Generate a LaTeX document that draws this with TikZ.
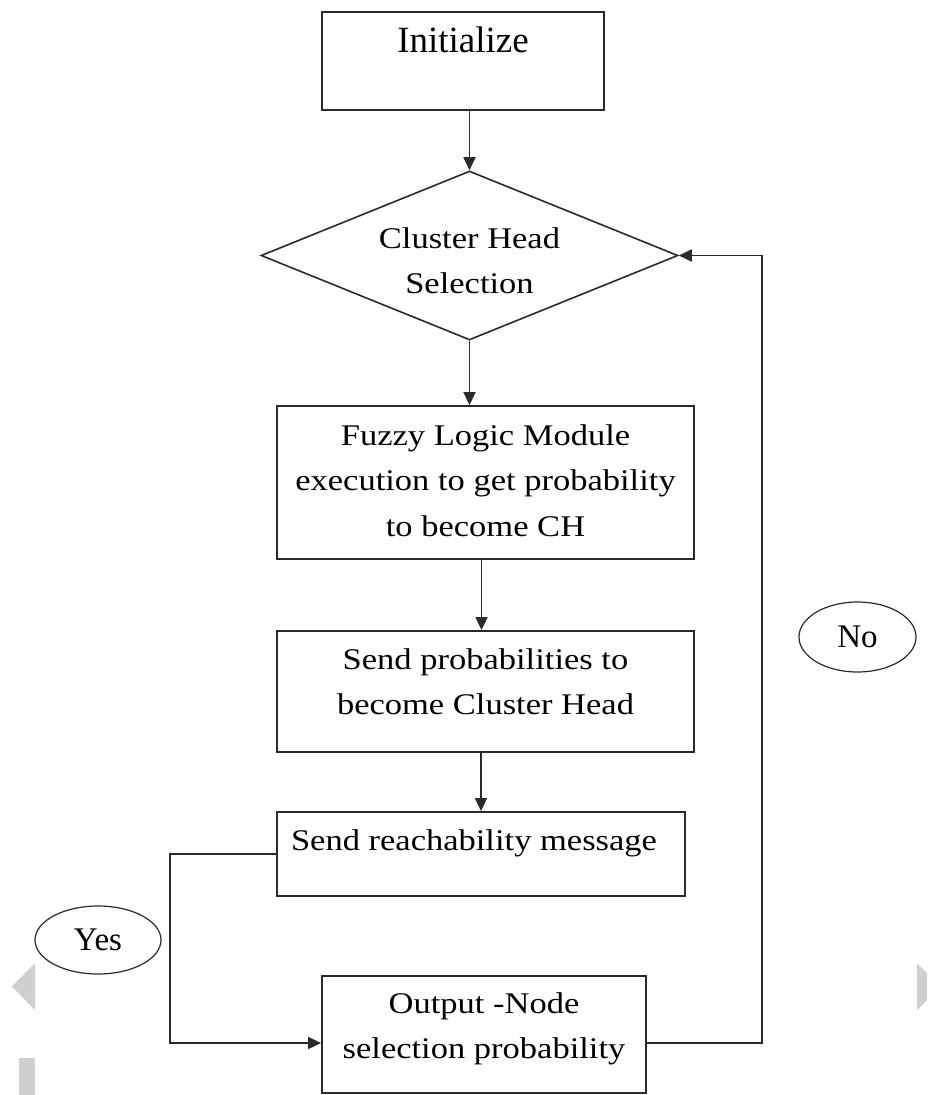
\documentclass[tikz,border=0pt]{standalone}
\usepackage{fontspec}
\setmainfont{Liberation Serif}
\newfontfamily\boxfont[FakeStretch=1.15]{Liberation Serif}
\usetikzlibrary{shapes.geometric,arrows.meta}
\definecolor{linec}{HTML}{2A2A2A}
\definecolor{greyc}{HTML}{CFCFCF}
\begin{document}
\begin{tikzpicture}[x=1pt,y=-1pt,
  box/.style={draw=linec, line width=1.8pt, rectangle, inner sep=0pt, anchor=base,
    font=\boxfont\fontsize{30}{45.5}\selectfont},
  decision/.style={draw=linec, line width=1.6pt, diamond, shape aspect=2.467,
    inner sep=0pt, minimum width=417pt, minimum height=169pt,
    font=\boxfont\fontsize{30}{45.5}\selectfont},
  tag/.style={draw=linec, line width=1.2pt, ellipse, inner sep=0pt,
    font=\fontsize{33}{40}\selectfont},
  arr/.style={draw=linec, line width=1.8pt, -{Triangle[length=13pt,width=12pt]}}]
\useasboundingbox (0,0) rectangle (927,1095);
\fill[white] (0,0) rectangle (927,1095);

% grey page-navigation marks
\fill[greyc] (35,963) -- (12,986.5) -- (35,1010) -- cycle;
\fill[greyc] (19,1058) rectangle (35,1095);
\fill[greyc] (917,963) -- (927,973) -- (927,1000) -- (917,1010) -- cycle;

% nodes
\node[box, minimum width=282pt, text height=40pt, text depth=58pt,
  font=\fontsize{37}{44}\selectfont] (init) at (463,52) {Initialize};
\node[decision, text height=30pt, text depth=44.4pt] (dia) at (469.5,255.5)
  {\begin{tabular}[t]{@{}c@{}}Cluster Head\\Selection\end{tabular}};
\node[box, minimum width=417pt, text height=39pt, text depth=114pt] (fuzzy) at (485.5,445)
  {\begin{tabular}[t]{@{}c@{}}Fuzzy Logic Module\\execution to get probability\\to become CH\end{tabular}};
\node[box, minimum width=417pt, text height=38.3pt, text depth=82.7pt] (sendp) at (485.5,669.3)
  {\begin{tabular}[t]{@{}c@{}}Send probabilities to\\become Cluster Head\end{tabular}};
\node[box, minimum width=408pt, text height=38pt, text depth=46pt] (sendr) at (481,850)
  {Send reachability message\hspace*{14pt}};
\node[box, minimum width=324pt, text height=37.3pt, text depth=79.7pt] (out) at (484,1013.3)
  {\begin{tabular}[t]{@{}c@{}}Output -Node\\selection probability\end{tabular}};
\node[tag, minimum width=126pt, minimum height=68pt] (yes) at (98,940) {Yes};
\node[tag, minimum width=117pt, minimum height=70pt] (no) at (857.5,637) {No};

% connectors
\coordinate (yl) at (170,1043);
\coordinate (nl) at (762,1043);
\draw[arr] (init.south -| dia.north) -- (dia.north);
\draw[arr] (dia.south) -- (dia.south |- fuzzy.north);
\draw[arr] ([xshift=-4pt]fuzzy.south) -- ([xshift=-4pt]sendp.north);
\draw[arr] (sendr.north |- sendp.south) -- (sendr.north);
\draw[arr] (sendr.west) -| (yl) -- (yl -| out.west);
\draw[arr] (nl -| out.east) -- (nl) |- (dia.east);
\end{tikzpicture}
\end{document}
